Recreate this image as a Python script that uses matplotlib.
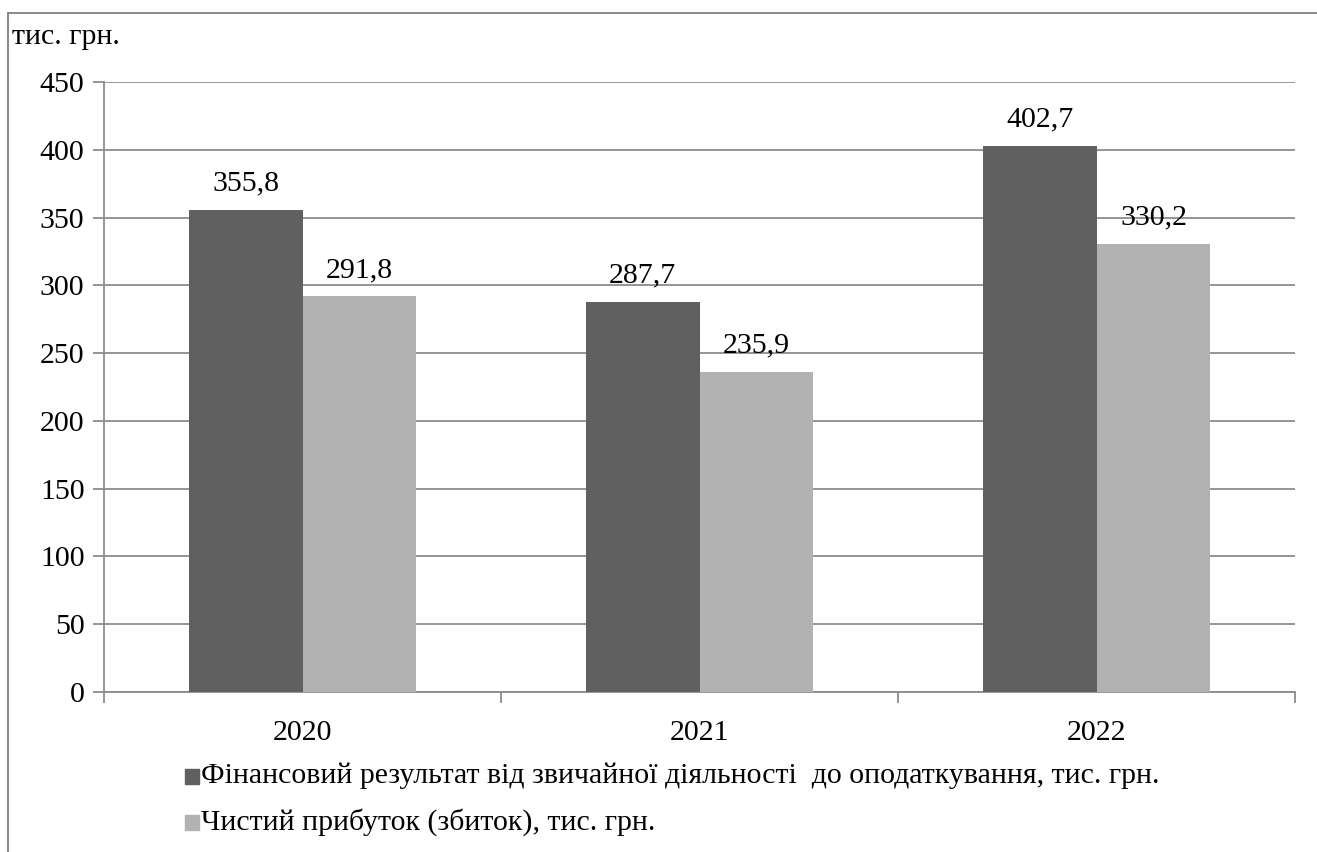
import matplotlib
matplotlib.use("Agg")
import matplotlib.pyplot as plt
import numpy as np
from matplotlib.patches import Rectangle
from matplotlib.lines import Line2D

years = ["2020", "2021", "2022"]
series_names = [
    "Фінансовий результат від звичайної діяльності  до оподаткування, тис. грн.",
    "Чистий прибуток (збиток), тис. грн.",
]
pretax = [355.8, 287.7, 402.7]
net_profit = [291.8, 235.9, 330.2]
colors = ["#606060", "#b2b2b2"]

plt.rcParams["font.family"] = ["Liberation Serif", "DejaVu Serif"]
FS = 21.5

W, H, DPI = 1317, 852, 100
fig = plt.figure(figsize=(W / DPI, H / DPI), dpi=DPI)

def fx(px):
    return px / W

def fy(py):
    return 1 - py / H

# outer frame (top and left edges visible)
fig.add_artist(Line2D([fx(8), 1.0], [fy(13), fy(13)], transform=fig.transFigure,
                      color="#808080", lw=1.3))
fig.add_artist(Line2D([fx(8), fx(8)], [fy(13), 0.0], transform=fig.transFigure,
                      color="#808080", lw=1.3))

ax = fig.add_axes([fx(104), fy(692), fx(1295) - fx(104), fy(82) - fy(692)])

x = np.arange(len(years))
bw = 0.287
b1 = ax.bar(x - bw / 2, pretax, bw, color=colors[0], zorder=3)
b2 = ax.bar(x + bw / 2, net_profit, bw, color=colors[1], zorder=3)

for bars, vals in ((b1, pretax), (b2, net_profit)):
    for rect, v in zip(bars, vals):
        ax.text(rect.get_x() + rect.get_width() / 2, v + 10,
                f"{v:.1f}".replace(".", ","), ha="center", va="bottom",
                fontsize=FS, zorder=4)

ax.set_xlim(-0.5, len(years) - 0.5)
ax.set_ylim(0, 450)
ax.set_yticks(np.arange(0, 451, 50))
ax.yaxis.grid(True, color="#8c8c8c", lw=1.3, zorder=0)
ax.set_axisbelow(True)

ax.set_xticks(x)
ax.set_xticklabels(years, fontsize=FS)
ax.set_xticks(np.arange(-0.5, len(years), 1), minor=True)
ax.tick_params(axis="x", which="major", length=0, pad=20)
ax.tick_params(axis="x", which="minor", length=8, width=1.3, color="#8c8c8c")
ax.tick_params(axis="y", length=8, width=1.3, color="#8c8c8c", labelsize=FS, pad=6)

for s in ("top", "right"):
    ax.spines[s].set_visible(False)
for s in ("left", "bottom"):
    ax.spines[s].set_color("#8c8c8c")
    ax.spines[s].set_linewidth(1.3)

fig.text(fx(12), fy(37), "тис. грн.", fontsize=FS, ha="left", va="center")

# legend rows
for i, (name, c) in enumerate(zip(series_names, colors)):
    yc = [776, 822][i]
    fig.add_artist(Rectangle((fx(185), fy(yc + 8)), fx(14), fy(yc - 7) - fy(yc + 8),
                             transform=fig.transFigure, color=c))
    fig.text(fx(201), fy(yc), name, fontsize=FS, ha="left", va="center")

fig.savefig("out.png", dpi=DPI)
